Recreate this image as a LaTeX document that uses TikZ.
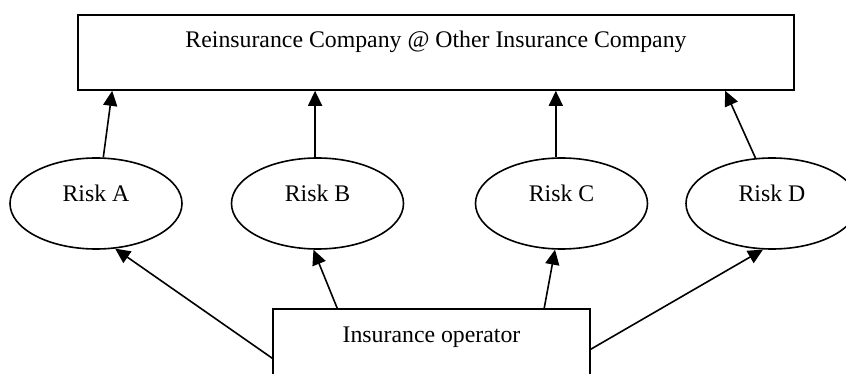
\documentclass[tikz,border=0pt]{standalone}
\usepackage{fontspec}
\setmainfont{Liberation Serif}
\usetikzlibrary{shapes.geometric,arrows.meta,calc}
\begin{document}
\begin{tikzpicture}[x=1pt,y=-1pt,
  every node/.style={font=\fontsize{23.8}{28}\selectfont, line width=1.6pt},
  boxnode/.style={draw, rectangle, inner sep=0pt, text height=18pt, text depth=27pt},
  risknode/.style={draw, ellipse, inner sep=0pt, minimum width=172pt, minimum height=91pt, text height=16pt, text depth=19pt},
  arr/.style={line width=1.6pt, -{Triangle[length=15pt,width=14pt]}}]
\clip (0,0) rectangle (846,374);
\node[boxnode, minimum width=716pt, minimum height=75pt] (top) at (436,52.5) {Reinsurance Company @ Other Insurance Company};
\node[risknode] (ra) at (96,203.5) {Risk A};
\node[risknode] (rb) at (317.5,203.5) {Risk B};
\node[risknode] (rc) at (561.5,203.5) {Risk C};
\node[risknode] (rd) at (772,203.5) {Risk D};
\node[boxnode, minimum width=317pt, minimum height=75pt] (op) at (431.5,346.5) {Insurance operator};
\draw[arr] (ra.81) -- ($(top.south west)+(35,0)$);
\draw[arr] (rb.93) -- (rb.93 |- top.south);
\draw[arr] (rc.97) -- (rc.97 |- top.south);
\draw[arr] (rd.110) -- ($(top.south west)+(648,0)$);
\draw[arr] ($(op.north west)+(0,50)$) -- (ra.-67);
\draw[arr] ($(op.north west)+(65,0)$) -- (rb.-95);
\draw[arr] ($(op.north west)+(272,0)$) -- (rc.-98);
\draw[arr] ($(op.north east)+(0,41)$) -- (rd.-101);
\end{tikzpicture}
\end{document}
